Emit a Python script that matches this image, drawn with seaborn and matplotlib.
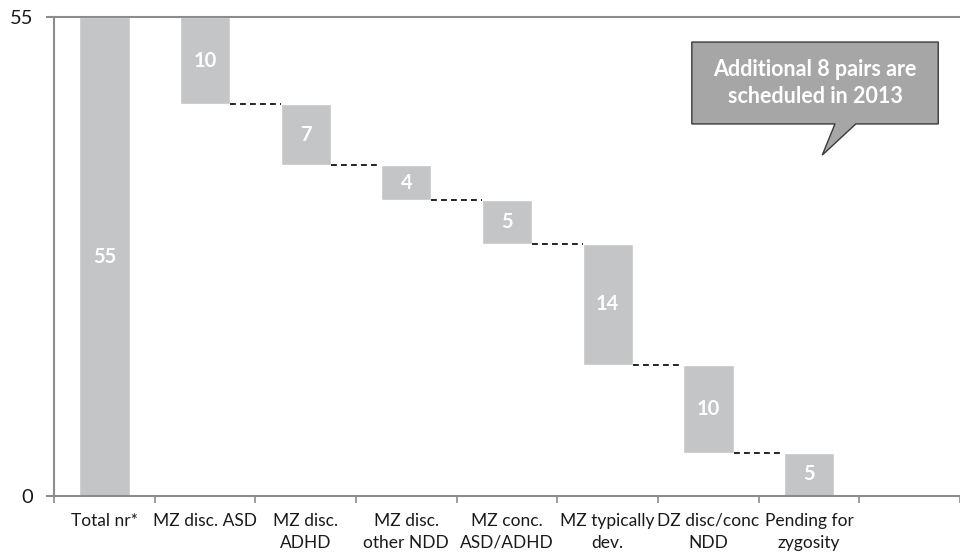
import numpy as np
import pandas as pd
import seaborn as sns
import matplotlib.pyplot as plt
from matplotlib.patches import Polygon

# waterfall data
categories = ["Total nr*", "MZ disc. ASD", "MZ disc.\nADHD", "MZ disc.\nother NDD",
              "MZ conc.\nASD/ADHD", "MZ typically\ndev.", "DZ disc/conc\nNDD", "Pending for\nzygosity"]
steps = [55, 10, 7, 4, 5, 14, 10, 5]
total = 55

# bottoms of the floating bars
bottoms = [0]
level = total
for s in steps[1:]:
    level -= s
    bottoms.append(level)

df = pd.DataFrame({"category": categories, "value": steps, "bottom": bottoms})

sns.set_style("ticks")
plt.rcParams['font.family'] = ['Lato', 'DejaVu Sans']

fig = plt.figure(figsize=(9.6, 5.53), dpi=100)
ax = fig.add_axes([0.05625, 0.103, 0.94375, 0.866])

sns.barplot(data=df, x="category", y="value", bottom=df["bottom"], color="#c4c5c7",
            saturation=1, width=0.5, ax=ax)

# value labels in the middle of each bar
for i, (v, b) in enumerate(zip(steps, bottoms)):
    ax.text(i, b + v / 2, str(v), ha="center", va="center", color="white",
            fontsize=14.5, fontweight="bold")

# dashed connectors between consecutive bars
for i in range(1, len(steps) - 1):
    ax.plot([i + 0.25, i + 0.75], [bottoms[i], bottoms[i]], color="black",
            lw=1.2, ls=(0, (3.5, 2.5)))

ax.set_xlim(-0.5, 8.38)
ax.set_ylim(0, 55)
ax.set_yticks([0, 55])
ax.set_yticklabels(["0", "55"], fontsize=14.5, color="#1a1a1a")
ax.set_xticks(range(len(categories)))
ax.set_xticklabels(categories, fontsize=12.5, color="#1a1a1a", linespacing=1.45)
ax.set_xticks(np.arange(-0.5, 9, 1), minor=True)
ax.tick_params(axis="x", which="major", length=0, pad=12, bottom=True)
ax.tick_params(axis="x", which="minor", length=5, color="#8c8c8c", width=1.2, bottom=True)
ax.yaxis.set_tick_params(which="major", length=6, color="#8c8c8c", width=1.5, pad=9, left=True, direction="out")
ax.set_xlabel("")
ax.set_ylabel("")

for side in ["left", "bottom", "top"]:
    ax.spines[side].set_color("#8c8c8c")
    ax.spines[side].set_linewidth(1.5)
    ax.spines[side].set_visible(True)
ax.spines["right"].set_visible(False)

# callout box
x0, x1, y0, y1 = 0.704, 0.976, 0.777, 0.948
callout = Polygon([(x0, y0), (x0, y1), (x1, y1), (x1, y0), (0.885, y0), (0.848, 0.712), (0.862, y0)],
                  closed=True, transform=ax.transAxes, facecolor="#a6a6a6",
                  edgecolor="#3a3a3a", lw=1, zorder=5)
ax.add_patch(callout)
ax.text((x0 + x1) / 2, (y0 + y1) / 2, "Additional 8 pairs are\nscheduled in 2013",
        transform=ax.transAxes, ha="center", va="center", color="white",
        fontsize=15.5, fontweight="bold", linespacing=1.3, zorder=6)

fig.savefig("out.png", dpi=100)
